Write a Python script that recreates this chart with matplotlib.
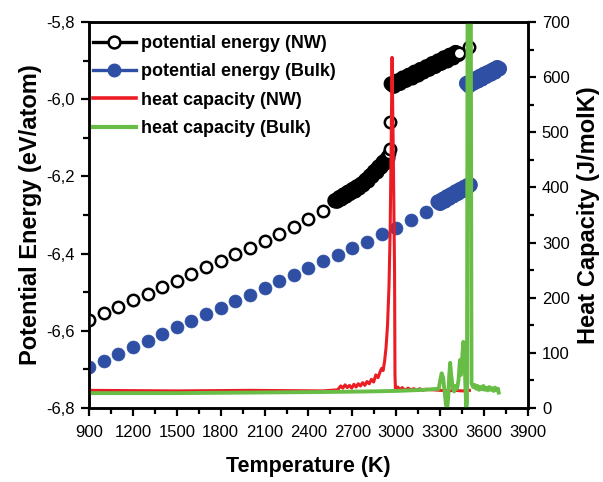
import matplotlib
matplotlib.use("Agg")
import matplotlib.pyplot as plt
from matplotlib.lines import Line2D
from matplotlib.ticker import MultipleLocator, FuncFormatter

plt.rcParams['font.family'] = ['Liberation Sans', 'DejaVu Sans']

# ---------------- data ----------------
# potential energy, nanowire: sparse solid part
nw_T = [900, 1000, 1100, 1200, 1300, 1400, 1500, 1600, 1700, 1800, 1900, 2000,
        2100, 2200, 2300, 2400, 2500]
nw_E = [-6.572, -6.555, -6.538, -6.521, -6.504, -6.487, -6.470, -6.453, -6.436,
        -6.419, -6.402, -6.385, -6.367, -6.350, -6.330, -6.310, -6.290]
# nanowire: dense premelting part
nw_pre_T = [2580, 2595, 2610, 2625, 2640, 2655, 2670, 2685, 2700, 2715, 2730, 2745,
            2760, 2775, 2790, 2805, 2820, 2835, 2850, 2865, 2880, 2895, 2910, 2925,
            2940]
nw_pre_E = [-6.263, -6.264, -6.255, -6.258, -6.248, -6.251, -6.241, -6.244, -6.234,
            -6.237, -6.227, -6.230, -6.220, -6.221, -6.210, -6.211, -6.199, -6.200,
            -6.187, -6.188, -6.175, -6.176, -6.163, -6.164, -6.152]
# nanowire: melting jump
nw_jump_T = [2950, 2955, 2960]
nw_jump_E = [-6.140, -6.130, -6.060]
# nanowire: dense liquid part
nw_liq_T = [2965, 2985, 3005, 3025, 3045, 3065, 3085, 3105, 3125, 3145, 3165, 3185,
            3205, 3225, 3245, 3265, 3285, 3305, 3325, 3345, 3365, 3385, 3405, 3425]
nw_liq_E = [-5.960, -5.966, -5.953, -5.959, -5.945, -5.951, -5.938, -5.944, -5.930,
            -5.937, -5.923, -5.929, -5.916, -5.922, -5.908, -5.915, -5.901, -5.907,
            -5.893, -5.900, -5.886, -5.892, -5.879, -5.884]
nw_end_T = [3430, 3500]
nw_end_E = [-5.881, -5.864]

# potential energy, bulk: sparse solid part
bulk_T = [900, 1000, 1100, 1200, 1300, 1400, 1500, 1600, 1700, 1800, 1900, 2000,
          2100, 2200, 2300, 2400, 2500, 2600, 2700, 2800, 2900, 3000, 3100, 3200]
bulk_E = [-6.694, -6.677, -6.660, -6.643, -6.626, -6.609, -6.591, -6.574, -6.557,
          -6.540, -6.523, -6.506, -6.489, -6.472, -6.455, -6.437, -6.420, -6.403,
          -6.386, -6.369, -6.350, -6.333, -6.313, -6.291]
# bulk: dense premelting part
bulk_pre_T = [3285, 3300, 3315, 3330, 3345, 3360, 3375, 3390, 3405, 3420, 3435,
              3450, 3465, 3480, 3495, 3505]
bulk_pre_E = [-6.266, -6.270, -6.260, -6.264, -6.253, -6.257, -6.247, -6.250,
              -6.240, -6.244, -6.234, -6.237, -6.228, -6.231, -6.222, -6.222]
# bulk: dense liquid part
bulk_liq_T = [3480, 3495, 3510, 3525, 3540, 3555, 3570, 3585, 3600, 3615, 3630,
              3645, 3660, 3675, 3690, 3705]
bulk_liq_E = [-5.959, -5.965, -5.953, -5.959, -5.947, -5.953, -5.941, -5.947,
              -5.935, -5.941, -5.930, -5.935, -5.924, -5.929, -5.918, -5.921]

# heat capacity, nanowire
cpnw_T = [900, 1500, 2000, 2500, 2600, 2620, 2635, 2650, 2665, 2680, 2695, 2710,
          2725, 2740, 2755, 2770, 2785, 2800, 2815, 2830, 2845, 2860, 2875, 2890,
          2900, 2910, 2920, 2930, 2940, 2950, 2958, 2965, 2971, 2980, 2988, 2991,
          2994, 3010, 3025, 3040, 3060, 3080, 3100, 3120, 3140, 3160, 3180, 3200,
          3250, 3300, 3350, 3400, 3450, 3500]
cpnw_C = [32, 31, 32, 31, 33, 40, 36, 42, 37, 41, 36, 43, 38, 44, 40, 46, 41, 48,
          44, 52, 47, 60, 55, 66, 72, 68, 85, 110, 150, 220, 320, 480, 636, 450,
          250, 60, 36, 38, 33, 37, 32, 36, 33, 35, 32, 35, 32, 34, 33, 32, 31, 32,
          31, 32]

# heat capacity, bulk
cpb_T = [900, 1500, 2000, 2500, 2800, 3000, 3200, 3290, 3300, 3310, 3320, 3330,
         3340, 3348, 3355, 3362, 3368, 3375, 3385, 3395, 3405, 3415, 3425, 3435,
         3442, 3450, 3458, 3465, 3472, 3478, 3483, 3488, 3508, 3514, 3525, 3535,
         3545, 3555, 3565, 3575, 3585, 3595, 3605, 3615, 3625, 3635, 3645, 3655,
         3665, 3675, 3685, 3695, 3700]
cpb_C = [27, 27, 28, 29, 30, 31, 33, 35, 50, 63, 55, 30, 5, 0, 20, 60, 82, 60, 38,
         30, 40, 35, 50, 87, 60, 90, 120, 110, 40, 0, 10, 900, 900, 45, 38, 42, 35,
         40, 33, 38, 34, 40, 33, 37, 32, 38, 33, 36, 31, 37, 32, 35, 28]

x_ticks = [900, 1200, 1500, 1800, 2100, 2400, 2700, 3000, 3300, 3600, 3900]
labels = ['potential energy (NW)', 'potential energy (Bulk)',
          'heat capacity (NW)', 'heat capacity (Bulk)']

BLUE = '#2E4FA3'
RED = '#EC1C24'
GREEN = '#67BD45'

# ---------------- figure ----------------
fig = plt.figure(figsize=(6.03, 4.82), dpi=100)
ax = fig.add_axes([89 / 603, 1 - 408 / 482, (528 - 89) / 603, (408 - 22) / 482])
ax2 = ax.twinx()

ring = dict(linestyle='none', marker='o', markersize=8.2, markerfacecolor='white',
            markeredgecolor='black', markeredgewidth=1.8)
dot = dict(linestyle='none', marker='o', markersize=9.3, markerfacecolor=BLUE,
           markeredgecolor=BLUE, markeredgewidth=0.5)

# dense bands drawn as thick strokes under the markers
for T, E in ((nw_pre_T, nw_pre_E), (nw_liq_T, nw_liq_E)):
    ax.plot(T, E, color='black', linewidth=11, solid_capstyle='round', zorder=2)
for T, E in ((bulk_pre_T, bulk_pre_E), (bulk_liq_T, bulk_liq_E)):
    ax.plot(T, E, color=BLUE, linewidth=11, solid_capstyle='round', zorder=2)

ax.plot(nw_T, nw_E, zorder=3, **ring)
ax.plot(nw_pre_T, nw_pre_E, zorder=3, **{**ring, 'markerfacecolor': 'black'})
ax.plot(nw_jump_T, nw_jump_E, zorder=3, **ring)
ax.plot(nw_liq_T, nw_liq_E, zorder=3, **{**ring, 'markerfacecolor': 'black'})
ax.plot(nw_end_T, nw_end_E, zorder=3, **ring)

ax.plot(bulk_T, bulk_E, zorder=3, **dot)
ax.plot(bulk_pre_T, bulk_pre_E, zorder=3, **dot)
ax.plot(bulk_liq_T, bulk_liq_E, zorder=3, **dot)

ax2.plot(cpnw_T, cpnw_C, color=RED, linewidth=2.2, solid_joinstyle='round')
ax2.plot(cpb_T, cpb_C, color=GREEN, linewidth=2.8, solid_joinstyle='round')

ax.set_xlim(900, 3900)
ax.set_ylim(-6.8, -5.8)
ax2.set_ylim(0, 700)

ax.set_xticks(x_ticks)
ax.xaxis.set_minor_locator(MultipleLocator(150))
ax.yaxis.set_major_locator(MultipleLocator(0.2))
ax.yaxis.set_minor_locator(MultipleLocator(0.1))
ax.yaxis.set_major_formatter(FuncFormatter(lambda v, p: f"{v:.1f}".replace('.', ',')))
ax2.yaxis.set_major_locator(MultipleLocator(100))
ax2.yaxis.set_minor_locator(MultipleLocator(50))

for a in (ax, ax2):
    for s in a.spines.values():
        s.set_linewidth(1.8)
    a.tick_params(which='major', direction='out', length=6, width=1.6,
                  labelsize=12, pad=4)
    a.tick_params(which='minor', direction='out', length=4, width=1.6)
ax.tick_params(axis='x', which='both', top=False, pad=6)
ax.tick_params(axis='y', which='both', right=False)

ax.set_xlabel('Temperature (K)', fontsize=15.5, fontweight='bold', labelpad=12)
ax.set_ylabel('Potential Energy (eV/atom)', fontsize=17, fontweight='bold', labelpad=3)
ax2.set_ylabel('Heat Capacity (J/molK)', fontsize=17, fontweight='bold', labelpad=5)

handles = [
    Line2D([], [], color='black', linewidth=2.4, marker='o', markersize=8.5,
           markerfacecolor='white', markeredgecolor='black', markeredgewidth=1.8),
    Line2D([], [], color=BLUE, linewidth=2.4, marker='o', markersize=9,
           markerfacecolor=BLUE, markeredgecolor=BLUE),
    Line2D([], [], color=RED, linewidth=2.6),
    Line2D([], [], color=GREEN, linewidth=3.0),
]
ax2.legend(handles, labels, loc='upper left', frameon=False,
           prop={'size': 13, 'weight': 'bold'}, handlelength=2.4,
           handletextpad=0.3, labelspacing=0.62, borderaxespad=0.0, borderpad=0.2,
           bbox_to_anchor=(0.0, 0.975))

fig.savefig('out.png', dpi=100)
